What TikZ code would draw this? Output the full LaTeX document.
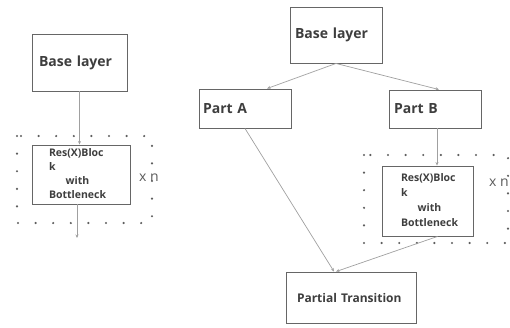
\documentclass[tikz,border=0pt]{standalone}
\usepackage{fontspec}
\setmainfont{Open Sans}
\usetikzlibrary{arrows.meta}
\definecolor{boxline}{HTML}{666666}
\definecolor{connc}{HTML}{A0A0A0}
\definecolor{txt}{HTML}{3E3E3E}
\definecolor{dotc}{HTML}{5E5E5E}
\newcommand{\resblock}{\begin{tabular}{@{}l@{}}Res(X)Bloc\\k\\\multicolumn{1}{@{}c@{}}{with}\\Bottleneck\end{tabular}}
\begin{document}
\begin{tikzpicture}[x=1pt,y=-1pt,
 box/.style={draw=boxline, line width=0.9pt, fill=white, text=txt, align=left, inner ysep=0pt},
 big/.style={font=\bfseries\fontsize{14}{16}\selectfont},
 mid/.style={font=\bfseries\fontsize{12}{14}\selectfont},
 resl/.style={font=\bfseries\fontsize{10.5}{14}\selectfont},
 resr/.style={font=\bfseries\fontsize{10.5}{15.2}\selectfont},
 conn/.style={draw=connc, line width=0.7pt, -{Stealth[length=3.5pt,width=3pt]}},
 dotframe/.style={draw=dotc, line width=2.4pt, line cap=round, dash pattern=on 0pt off 17.6pt},
 reps/.style={text=txt!85, font=\fontsize{14}{16}\selectfont, inner sep=0pt, anchor=west}]
\useasboundingbox (0,0) rectangle (510,327);
% dotted repeat frames
\draw[dotframe] (17,136) rectangle (152,223);
\draw[dotframe] (364,155) rectangle (508,243);
% left diagram
\node[box, big, minimum width=95pt, minimum height=57pt, text width=81pt, inner xsep=7pt] (lb) at (79.5,62.5) {Base layer};
\node[box, resl, minimum width=98pt, minimum height=59pt, text width=64pt, inner xsep=17pt] (lr) at (81,174.5) {\resblock};
\node[reps] (ln) at (139,178) {x n};
\coordinate (lout) at (77,238);
\draw[conn] (lb.south) -- (lb.south |- lr.north);
\draw[conn] (lr.south -| lout) -- (lout);
% right diagram
\node[box, big, minimum width=92pt, minimum height=56pt, text width=82pt, inner xsep=5pt] (rb) at (336,35) {Base layer};
\node[box, big, minimum width=92pt, minimum height=39pt, text width=84pt, inner xsep=4pt] (pa) at (245,108.5) {Part A};
\node[box, big, minimum width=92pt, minimum height=38pt, text width=82pt, inner xsep=5pt] (pb) at (435,109) {Part B};
\node[box, resr, minimum width=91pt, minimum height=70pt, text width=53pt, inner xsep=19pt] (rr) at (427.5,201) {\resblock};
\node[reps] (rn) at (489,183) {x n};
\node[box, mid, minimum width=130pt, minimum height=51pt, text width=108pt, inner xsep=11pt] (pt) at (351,297.5) {Partial Transition};
\draw[conn] (rb.south) -- ([xshift=22pt]pa.north);
\draw[conn] (rb.south) -- ([xshift=4pt]pb.north);
\draw[conn] ([xshift=2pt]pb.south) -- ([xshift=2pt]pb.south |- rr.north);
\draw[conn] (pa.south) -- ([xshift=-17pt]pt.north);
\draw[conn] ([xshift=10pt]rr.south) -- ([xshift=-15pt]pt.north);
\end{tikzpicture}
\end{document}
